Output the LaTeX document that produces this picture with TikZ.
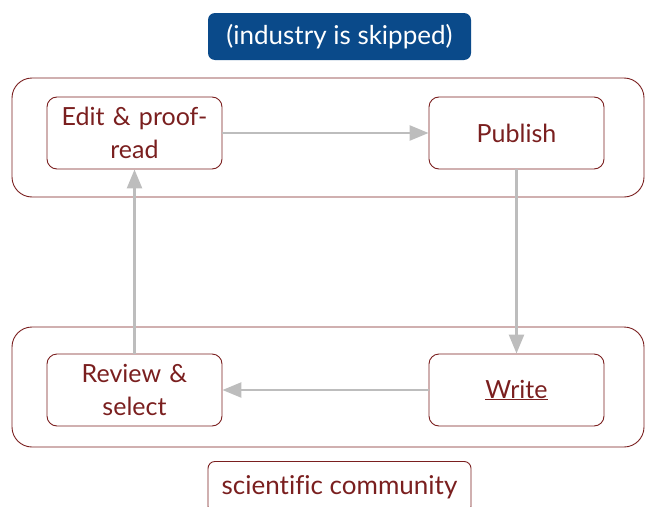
\documentclass[tikz,border=0pt]{standalone}
\usepackage{fontspec}
\setmainfont{Lato}[Ligatures=NoCommon]
\usetikzlibrary{arrows.meta}
\definecolor{dred}{HTML}{7A1F1F}
\definecolor{dblue}{HTML}{0A4A8A}
\definecolor{lgray}{HTML}{BDBDBD}
\tikzset{
  stepbox/.style={draw=dred, line width=0.9pt, rounded corners=10pt, text=dred, font=\fontsize{25}{33}\selectfont, align=center, minimum width=175pt, minimum height=72pt, text width=170pt, inner sep=0pt},
  groupbox/.style={draw=dred, line width=0.9pt, rounded corners=20pt},
  flow/.style={draw=lgray, line width=2.5pt, -{Triangle[length=19pt,width=15pt]}},
}
\begin{document}
\begin{tikzpicture}[x=1pt,y=-1pt]
\useasboundingbox (0,0) rectangle (645,506);
\clip (0,0) rectangle (645,506);
\draw[groupbox] (12,78) rectangle (644,197);
\draw[groupbox] (12,327) rectangle (644,447);
\node[fill=dblue, rounded corners=7pt, minimum width=263pt, minimum height=47pt, inner sep=0pt, text=white, font=\fontsize{26}{30}\selectfont] (ind) at (339.5,36.5) {(industry is skipped)};
\node[stepbox] (edit) at (134.5,133) {Edit \& proof-\\read};
\node[stepbox] (pub) at (516.5,133) {Publish};
\node[stepbox] (rev) at (134.5,390) {Review \&\\select};
\node[stepbox] (write) at (516.5,390) {\underline{Write}};
\node[draw=dred, line width=0.9pt, rounded corners=7pt, minimum width=263pt, minimum height=52pt, inner sep=0pt, text=dred, font=\fontsize{26}{30}\selectfont, anchor=north] (sci) at (339.5,461) {\raisebox{-3pt}{scientific community}};
\draw[flow] (edit.east) -- (pub.west);
\draw[flow] (pub.south) -- (write.north);
\draw[flow] (write.west) -- (rev.east);
\draw[flow] (rev.north) -- (edit.south);
\end{tikzpicture}
\end{document}
